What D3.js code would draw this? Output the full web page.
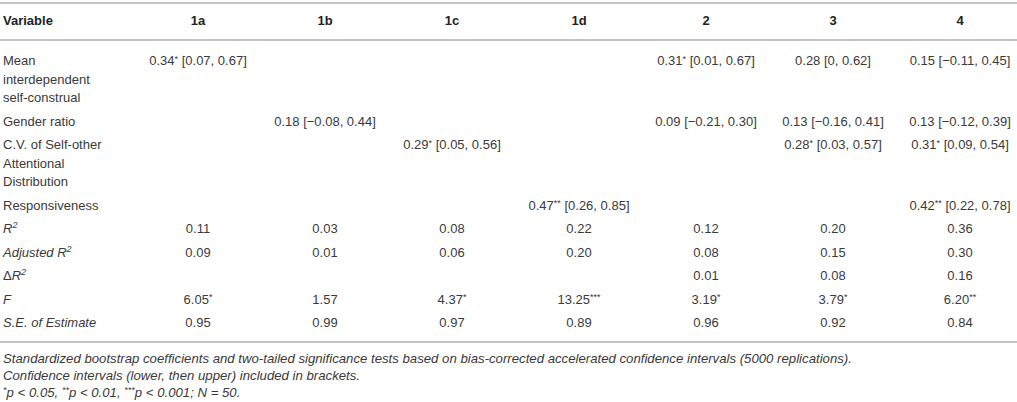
<!DOCTYPE html>
<html>
<head>
<meta charset="utf-8">
<script src="https://cdn.jsdelivr.net/npm/d3@7"></script>
<style>
  body { margin: 0; background: #fff; }
  svg { display: block; font-family: "Liberation Sans", Arial, sans-serif; }
</style>
</head>
<body>
<div id="chart"></div>
<script>
// models (columns)
var models = ["1a", "1b", "1c", "1d", "2", "3", "4"];

// predictor coefficients per model: [beta, stars, lower CI, upper CI], null = not in model
var meanInterdependent = [[0.34, "*", 0.07, 0.67], null, null, null, [0.31, "*", 0.01, 0.67], [0.28, "", 0, 0.62], [0.15, "", -0.11, 0.45]];
var genderRatio = [null, [0.18, "", -0.08, 0.44], null, null, [0.09, "", -0.21, 0.30], [0.13, "", -0.16, 0.41], [0.13, "", -0.12, 0.39]];
var cvAttention = [null, null, [0.29, "*", 0.05, 0.56], null, null, [0.28, "*", 0.03, 0.57], [0.31, "*", 0.09, 0.54]];
var responsiveness = [null, null, null, [0.47, "**", 0.26, 0.85], null, null, [0.42, "**", 0.22, 0.78]];

// model statistics
var rSquared = [0.11, 0.03, 0.08, 0.22, 0.12, 0.20, 0.36];
var adjRSquared = [0.09, 0.01, 0.06, 0.20, 0.08, 0.15, 0.30];
var deltaRSquared = [null, null, null, null, 0.01, 0.08, 0.16];
var fValue = [6.05, 1.57, 4.37, 13.25, 3.19, 3.79, 6.20];
var fStars = ["*", "", "*", "***", "*", "*", "**"];
var seEstimate = [0.95, 0.99, 0.97, 0.89, 0.96, 0.92, 0.84];

var footnotes = [
  [{t: "Standardized bootstrap coefficients and two-tailed significance tests based on bias-corrected accelerated confidence intervals (5000 replications)."}],
  [{t: "Confidence intervals (lower, then upper) included in brackets."}],
  [{t: "*", sup: 1}, {t: "p < 0.05, "}, {t: "**", sup: 1}, {t: "p < 0.01, "}, {t: "***", sup: 1}, {t: "p < 0.001; N = 50."}]
];

var W = 1017, H = 402;
var fmt = d3.format(".2f");
function num(v) { return v === 0 ? "0" : fmt(v); }

function coefCell(c) {
  if (!c) return [];
  var parts = [{t: num(c[0])}];
  if (c[1]) parts.push({t: c[1], sup: 1});
  parts.push({t: " [" + num(c[2]) + ", " + num(c[3]) + "]"});
  return parts;
}
function statCell(v, s) {
  if (v == null) return [];
  var parts = [{t: num(v)}];
  if (s) parts.push({t: s, sup: 1});
  return parts;
}

var rows = [
  {label: [[{t: "Mean"}], [{t: "interdependent"}], [{t: "self-construal"}]], cells: meanInterdependent.map(coefCell)},
  {label: [[{t: "Gender ratio"}]], cells: genderRatio.map(coefCell)},
  {label: [[{t: "C.V. of Self-other"}], [{t: "Attentional"}], [{t: "Distribution"}]], cells: cvAttention.map(coefCell)},
  {label: [[{t: "Responsiveness"}]], cells: responsiveness.map(coefCell)},
  {label: [[{t: "R", i: 1}, {t: "2", sup: 2, i: 1}]], cells: rSquared.map(function(v) { return statCell(v); })},
  {label: [[{t: "Adjusted R", i: 1}, {t: "2", sup: 2, i: 1}]], cells: adjRSquared.map(function(v) { return statCell(v); })},
  {label: [[{t: "\u0394"}, {t: "R", i: 1}, {t: "2", sup: 2, i: 1}]], cells: deltaRSquared.map(function(v) { return statCell(v); })},
  {label: [[{t: "F", i: 1}]], cells: fValue.map(function(v, k) { return statCell(v, fStars[k]); })},
  {label: [[{t: "S.E. of Estimate", i: 1}]], cells: seEstimate.map(function(v) { return statCell(v); })}
];

var x = d3.scalePoint().domain(models).range([198, 960]);
var lineH = 18.5, rowGap = 23.5, firstY = 60.5, left = 3, base = 4.6;

var yc = firstY;
rows.forEach(function(r) { r.y = yc; yc += (r.label.length - 1) * lineH + rowGap; });

var svg = d3.select("#chart").append("svg").attr("width", W).attr("height", H);

// write a run of styled parts into a text element
function writeParts(text, parts) {
  var shift = 0;
  parts.forEach(function(p) {
    var ts = text.append("tspan").text(p.t);
    var want = p.sup === 1 ? -3.5 : p.sup === 2 ? -5 : 0;
    if (want !== shift) { ts.attr("dy", want - shift); shift = want; }
    if (p.sup) ts.style("font-size", "9px");
    if (p.i) ts.style("font-style", "italic");
  });
}

// rules
var rules = [3, 40, 342];
svg.selectAll("line.rule").data(rules).enter().append("line")
  .attr("class", "rule")
  .attr("x1", 0).attr("x2", W)
  .attr("y1", function(d) { return d; }).attr("y2", function(d) { return d; })
  .attr("stroke", "#c4c4c4").attr("stroke-width", 1.8);

// header
var header = svg.append("g").style("font-weight", "bold").style("font-size", "13px").attr("fill", "#222");
header.append("text").attr("x", left).attr("y", 20 + base).text("Variable");
header.selectAll("text.model").data(models).enter().append("text")
  .attr("class", "model")
  .attr("x", function(d) { return x(d); })
  .attr("y", 20 + base)
  .attr("text-anchor", "middle")
  .text(function(d) { return d; });

// body
var body = svg.append("g").style("font-size", "13px").attr("fill", "#3a3a3a");
var rowG = body.selectAll("g.row").data(rows).enter().append("g").attr("class", "row");

rowG.each(function(r) {
  var g = d3.select(this);
  r.label.forEach(function(parts, li) {
    var t = g.append("text").attr("x", left).attr("y", r.y + li * lineH + base);
    writeParts(t, parts);
  });
  r.cells.forEach(function(parts, k) {
    if (!parts.length) return;
    var t = g.append("text")
      .attr("x", x(models[k]))
      .attr("y", r.y + base)
      .attr("text-anchor", "middle");
    writeParts(t, parts);
  });
});

// footnotes
var notes = svg.append("g").style("font-size", "13.2px").style("font-style", "italic").attr("fill", "#3a3a3a");
footnotes.forEach(function(parts, i) {
  var t = notes.append("text").attr("x", left).attr("y", 358 + i * 17 + base);
  writeParts(t, parts);
});
</script>
</body>
</html>
